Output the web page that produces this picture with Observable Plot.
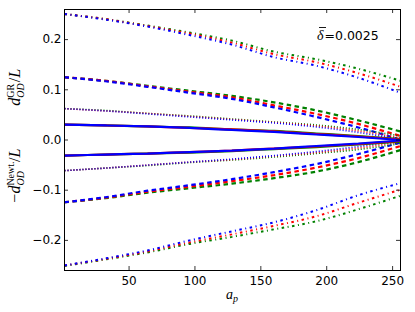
<!DOCTYPE html>
<html><head><meta charset="utf-8">
<script src="https://cdn.jsdelivr.net/npm/d3@7"></script>
<script src="https://cdn.jsdelivr.net/npm/@observablehq/plot@0.6"></script>
<style>body{margin:0;background:#fff}svg{display:block}</style>
</head><body><div id="chart"></div>
<script>
// sampled a_p positions
const apValues = [1, 32, 64, 96, 128, 160, 192, 224, 256];

// d_OD^GR / L  (upper half), initial 0.25 (dash-dot)
const grQuarterGreen = [0.251, 0.241, 0.228, 0.214, 0.198, 0.176, 0.161, 0.142, 0.118];
const grQuarterRed   = [0.251, 0.241, 0.227, 0.212, 0.194, 0.171, 0.155, 0.133, 0.106];
const grQuarterBlue  = [0.251, 0.240, 0.226, 0.209, 0.190, 0.165, 0.148, 0.124, 0.094];
// initial 0.125 (dashed)
const grEighthGreen = [0.125, 0.118, 0.108, 0.098, 0.088, 0.075, 0.059, 0.039, 0.017];
const grEighthRed   = [0.125, 0.118, 0.107, 0.096, 0.085, 0.069, 0.052, 0.032, 0.008];
const grEighthBlue  = [0.125, 0.117, 0.106, 0.094, 0.082, 0.065, 0.046, 0.025, 0.001];
// initial 0.0625 (dotted)
const grSixteenthGreen = [0.0625, 0.059, 0.053, 0.048, 0.042, 0.036, 0.030, 0.021, 0.008];
const grSixteenthRed   = [0.0625, 0.058, 0.053, 0.047, 0.041, 0.035, 0.028, 0.018, 0.004];
const grSixteenthBlue  = [0.0625, 0.058, 0.052, 0.046, 0.040, 0.034, 0.026, 0.015, 0.001];
// initial 0.03125 (solid)
const grThirtySecondGreen = [0.0305, 0.029, 0.027, 0.025, 0.021, 0.018, 0.013, 0.008, 0.002];
const grThirtySecondRed   = [0.0305, 0.029, 0.027, 0.024, 0.021, 0.017, 0.012, 0.007, 0.001];
const grThirtySecondBlue  = [0.0305, 0.029, 0.027, 0.024, 0.020, 0.016, 0.011, 0.006, 0.000];

// -d_OD^Newt. / L  (lower half)
const nwQuarterGreen = [-0.251, -0.238, -0.224, -0.207, -0.193, -0.178, -0.162, -0.138, -0.111];
const nwQuarterRed   = [-0.250, -0.237, -0.222, -0.204, -0.188, -0.171, -0.152, -0.125, -0.099];
const nwQuarterBlue  = [-0.250, -0.236, -0.220, -0.200, -0.182, -0.164, -0.140, -0.110, -0.086];
const nwEighthGreen = [-0.124, -0.116, -0.105, -0.096, -0.087, -0.076, -0.063, -0.044, -0.020];
const nwEighthRed   = [-0.124, -0.115, -0.103, -0.093, -0.082, -0.070, -0.055, -0.036, -0.012];
const nwEighthBlue  = [-0.124, -0.114, -0.101, -0.090, -0.078, -0.064, -0.048, -0.028, -0.005];
const nwSixteenthGreen = [-0.061, -0.056, -0.051, -0.045, -0.040, -0.034, -0.027, -0.019, -0.007];
const nwSixteenthRed   = [-0.061, -0.056, -0.050, -0.044, -0.039, -0.032, -0.025, -0.016, -0.004];
const nwSixteenthBlue  = [-0.061, -0.056, -0.050, -0.044, -0.038, -0.031, -0.023, -0.013, -0.001];
const nwThirtySecondGreen = [-0.031, -0.029, -0.027, -0.025, -0.022, -0.018, -0.014, -0.009, -0.003];
const nwThirtySecondRed   = [-0.031, -0.029, -0.027, -0.024, -0.021, -0.017, -0.013, -0.008, -0.002];
const nwThirtySecondBlue  = [-0.031, -0.029, -0.027, -0.024, -0.021, -0.017, -0.012, -0.007, -0.001];

const xTicks = [50, 100, 150, 200, 250];
const yTicks = [-0.2, -0.1, 0.0, 0.1, 0.2];
const deltaLabel = "0.0025";

const colourOf = {green: "#008000", red: "#ff0000", blue: "#0000ff"};
const seriesList = [
  ["dashdot", "green", grQuarterGreen], ["dashdot", "red", grQuarterRed], ["dashdot", "blue", grQuarterBlue],
  ["dashdot", "green", nwQuarterGreen], ["dashdot", "red", nwQuarterRed], ["dashdot", "blue", nwQuarterBlue],
  ["dashed", "green", grEighthGreen], ["dashed", "red", grEighthRed], ["dashed", "blue", grEighthBlue],
  ["dashed", "green", nwEighthGreen], ["dashed", "red", nwEighthRed], ["dashed", "blue", nwEighthBlue],
  ["dotted", "green", grSixteenthGreen], ["dotted", "red", grSixteenthRed], ["dotted", "blue", grSixteenthBlue],
  ["dotted", "green", nwSixteenthGreen], ["dotted", "red", nwSixteenthRed], ["dotted", "blue", nwSixteenthBlue],
  ["solid", "green", grThirtySecondGreen], ["solid", "red", grThirtySecondRed], ["solid", "blue", grThirtySecondBlue],
  ["solid", "green", nwThirtySecondGreen], ["solid", "red", nwThirtySecondRed], ["solid", "blue", nwThirtySecondBlue]
];
const rows = [];
seriesList.forEach(([style, colour, vals], k) => {
  vals.forEach((v, i) => rows.push({ap: apValues[i], v, key: k, style, colour: colourOf[colour]}));
});

const styleOpts = {
  dashdot: {strokeWidth: 2, strokeDasharray: "2.5,3.5,1,3.5"},
  dashed: {strokeWidth: 2.2, strokeDasharray: "4.5,3.5"},
  dotted: {strokeWidth: 1.6, strokeDasharray: "1,2"},
  solid: {strokeWidth: 2.2}
};

const W = 415, H = 312, mL = 64, mR = 15, mT = 9, mB = 42;
const innerW = W - mL - mR, innerH = H - mT - mB;

const lineMarks = ["dashdot", "dashed", "dotted", "solid"].map(s =>
  Plot.line(rows.filter(r => r.style === s), {
    x: "ap", y: "v", z: "key", stroke: "colour", curve: "monotone-x",
    strokeLinecap: "butt", strokeLinejoin: "miter", ...styleOpts[s]
  })
);

const plot = Plot.plot({
  width: W, height: H,
  marginLeft: mL, marginRight: mR, marginTop: mT, marginBottom: mB,
  style: {fontFamily: "DejaVu Sans", fontSize: "12px", background: "white", color: "black"},
  x: {domain: [1, 256]},
  y: {domain: [-0.26, 0.26]},
  color: {type: "identity"},
  marks: [
    ...lineMarks,
    Plot.axisX(xTicks, {tickSize: 0, tickPadding: 6, label: null, fontSize: 12}),
    Plot.axisY(yTicks, {tickSize: 0, tickPadding: 3, label: null, fontSize: 12, tickFormat: d3.format(".1f")}),
    Plot.tickX(xTicks, {x: d => d, insetTop: innerH - 4, stroke: "black", strokeWidth: 0.8}),
    Plot.tickX(xTicks, {x: d => d, insetBottom: innerH - 4, stroke: "black", strokeWidth: 0.8}),
    Plot.tickY(yTicks, {y: d => d, insetRight: innerW - 4, stroke: "black", strokeWidth: 0.8}),
    Plot.tickY(yTicks, {y: d => d, insetLeft: innerW - 4, stroke: "black", strokeWidth: 0.8}),
    Plot.frame({stroke: "black", strokeWidth: 1})
  ]
});

const svg = d3.select(plot);
const ys = plot.scale("y");
const serif = "'Liberation Serif', 'DejaVu Serif', serif";

// upper y label: d^GR_OD / L
const t1 = svg.append("text")
  .attr("transform", `translate(20,${ys.apply(0.1) - 2}) rotate(-90)`)
  .attr("text-anchor", "middle").attr("font-family", serif).attr("font-size", 16).attr("fill", "black");
t1.append("tspan").attr("font-style", "italic").text("d");
t1.append("tspan").attr("font-size", 10).attr("dy", -6).text("GR");
t1.append("tspan").attr("font-size", 10).attr("font-style", "italic").attr("dx", -14).attr("dy", 10).text("OD");
t1.append("tspan").attr("dy", -4).attr("dx", 1).text("/");
t1.append("tspan").attr("font-style", "italic").text("L");

// lower y label: -d^Newt._OD / L
const t2 = svg.append("text")
  .attr("transform", `translate(20,${ys.apply(-0.072)}) rotate(-90)`)
  .attr("text-anchor", "middle").attr("font-family", serif).attr("font-size", 16).attr("fill", "black");
t2.append("tspan").text("\u2212");
t2.append("tspan").attr("font-style", "italic").text("d");
t2.append("tspan").attr("font-size", 10).attr("dy", -6).text("Newt.");
t2.append("tspan").attr("font-size", 10).attr("font-style", "italic").attr("dx", -24).attr("dy", 10).text("OD");
t2.append("tspan").attr("dy", -4).attr("dx", 9).text("/");
t2.append("tspan").attr("font-style", "italic").text("L");

// x label a_p
const t3 = svg.append("text")
  .attr("x", (mL + W - mR) / 2).attr("y", 299)
  .attr("text-anchor", "middle").attr("font-family", serif).attr("font-size", 14).attr("fill", "black");
t3.append("tspan").attr("font-style", "italic").text("a");
t3.append("tspan").attr("font-style", "italic").attr("font-size", 10).attr("dy", 3).text("p");

// annotation delta-bar = 0.0025
const t4 = svg.append("text")
  .attr("x", 317).attr("y", 39.5).attr("text-anchor", "start")
  .attr("font-family", "DejaVu Sans").attr("font-size", 12.5).attr("fill", "black");
t4.append("tspan").attr("font-family", serif).attr("font-style", "italic").attr("font-size", 14).text("\u03b4");
t4.append("tspan").attr("dx", 1).text("=" + deltaLabel);
// macron over delta
svg.append("line").attr("x1", 319).attr("x2", 326).attr("y1", 27.5).attr("y2", 27.5)
  .attr("stroke", "black").attr("stroke-width", 0.9);

document.getElementById("chart").appendChild(plot);
</script></body></html>
